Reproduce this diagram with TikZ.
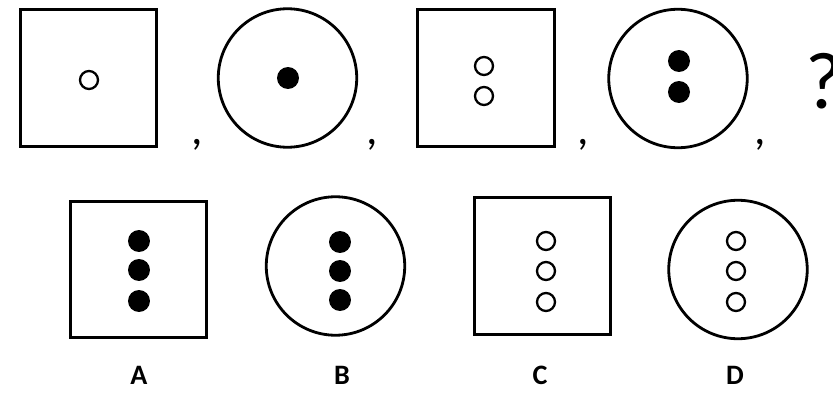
\documentclass[tikz,border=0pt]{standalone}
\usepackage{fontspec}
\setmainfont{Carlito}
\usetikzlibrary{positioning}
\tikzset{
  boxfig/.style={draw, line width=1.6pt, minimum size=2.73cm, inner sep=0pt},
  roundfig/.style={draw, circle, line width=1.6pt, minimum size=2.77cm, inner sep=0pt},
  holedot/.style={draw, circle, line width=1.3pt, minimum size=0.36cm, inner sep=0pt},
  fulldot/.style={fill, circle, minimum size=0.44cm, inner sep=0pt},
  sepmark/.style={font=\fontsize{26}{28}\selectfont, inner sep=0pt},
  optlabel/.style={font=\bfseries\fontsize{16}{18}\selectfont, inner sep=0pt}
}

\begin{document}
\begin{tikzpicture}[x=0.02cm, y=-0.02cm]
    \useasboundingbox (0,0) rectangle (833,395);

    % Sequence
    \node[boxfig] (seq1) at (88.5,78) {};
    \node[holedot] (seq1h) at (89,80) {};
    \node[sepmark] (sep1) at (197,145) {,};

    \node[roundfig] (seq2) at (287.5,78) {};
    \node[fulldot] (seq2d) at (288,78) {};
    \node[sepmark] (sep2) at (372,145) {,};

    \node[boxfig] (seq3) at (486,78) {};
    \node[holedot] (seq3h1) at (484,66) {};
    \node[holedot] (seq3h2) at (484,96) {};
    \node[sepmark] (sep3) at (583,145) {,};

    \node[roundfig] (seq4) at (678,78.5) {};
    \node[fulldot] (seq4d1) at (679,61) {};
    \node[fulldot] (seq4d2) at (679,92) {};
    \node[sepmark] (sep4) at (760,145) {,};

    \node[anchor=west, inner sep=0pt, font=\fontsize{46}{48}\selectfont] (ask) at (805,81) {?};

    % Options
    \node[boxfig] (optA) at (138.5,269.5) {};
    \foreach \y in {241,270,301} \node[fulldot] at (139,\y) {};
    \node[optlabel] (labA) at (139,375) {A};

    \node[roundfig] (optB) at (335.5,266) {};
    \foreach \y in {242,271,300} \node[fulldot] at (340,\y) {};
    \node[optlabel] (labB) at (342,375) {B};

    \node[boxfig] (optC) at (542.5,266) {};
    \foreach \y in {241,271,302} \node[holedot] at (546,\y) {};
    \node[optlabel] (labC) at (540,375) {C};

    \node[roundfig] (optD) at (738,269.5) {};
    \foreach \y in {241,271,302} \node[holedot] at (736,\y) {};
    \node[optlabel] (labD) at (735,375) {D};
\end{tikzpicture}
\end{document}
